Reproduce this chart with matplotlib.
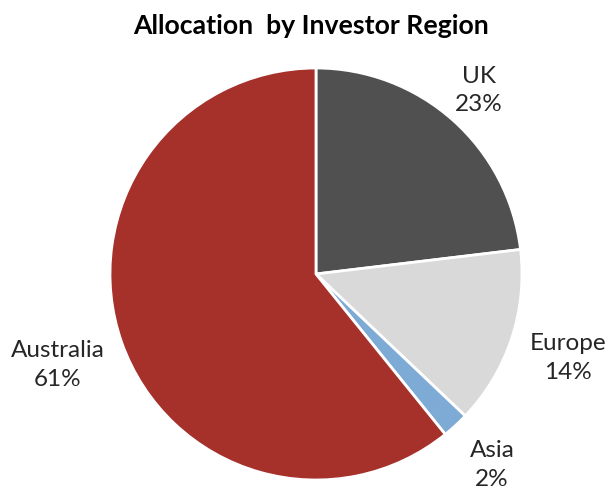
import matplotlib.pyplot as plt
import numpy as np

# datos (en sentido horario desde arriba)
regiones = ['UK', 'Europe', 'Asia', 'Australia']
valores = [23.1, 14.0, 2.1, 60.8]
etiquetas_pct = ['23%', '14%', '2%', '61%']
colores = ['#505050', '#d9d9d9', '#7eaad6', '#a6302a']

plt.rcParams['font.family'] = ['Lato', 'DejaVu Sans']

fig = plt.figure(figsize=(6.1, 4.95), dpi=100)
ax = fig.add_axes([0.1803, 0.0303, 412 / 610, 412 / 495])

wedges, _ = ax.pie(valores, colors=colores, startangle=90, counterclock=False,
                   radius=1, wedgeprops=dict(edgecolor='white', linewidth=2))

# distancia de cada etiqueta al centro (en radios)
dist = [1.19, 1.29, 1.26, 1.33]
for w, reg, pct, d in zip(wedges, regiones, etiquetas_pct, dist):
    ang = np.deg2rad((w.theta1 + w.theta2) / 2)
    ax.text(d * np.cos(ang), d * np.sin(ang), reg + '\n' + pct,
            ha='center', va='center', fontsize=17.5, color='#262626',
            linespacing=1.45)

ax.set_xlim(-1, 1)
ax.set_ylim(-1, 1)
ax.set_aspect('equal')
ax.axis('off')

fig.text(0.51, 0.948, 'Allocation  by Investor Region', ha='center', va='center',
         fontsize=19.2, fontweight='bold', color='black')

fig.savefig('out.png', dpi=100)
